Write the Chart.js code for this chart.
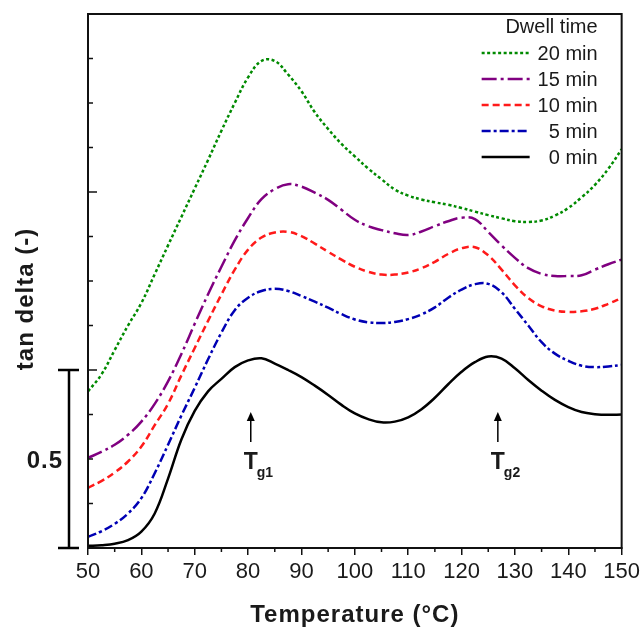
<!DOCTYPE html>
<html>
<head>
<meta charset="utf-8">
<script src="https://cdn.jsdelivr.net/npm/chart.js@4"></script>
<style>
  html, body { margin: 0; padding: 0; background: #fff; }
  #wrap { width: 644px; height: 629px; }
</style>
</head>
<body>
<div id="wrap"><canvas id="tanDeltaChart" width="644" height="629"></canvas></div>
<script>
// Temperature grid (°C), shared by all curves
const temps = [50, 52.5, 55, 57.5, 60, 62.5, 65, 67.5, 70, 72.5, 75, 77.5, 80, 82.5, 85, 87.5, 90, 92.5, 95, 97.5,
               100, 102.5, 105, 107.5, 110, 112.5, 115, 117.5, 120, 122.5, 125, 127.5, 130, 132.5, 135, 137.5, 140, 142.5, 145, 147.5, 150];

// tan delta (offset curves, arbitrary baseline)
const dwell0 = [0.006, 0.008, 0.012, 0.022, 0.046, 0.097, 0.195, 0.305, 0.385, 0.44, 0.475, 0.508, 0.527, 0.533, 0.518, 0.5, 0.48, 0.456, 0.43, 0.402,
                0.378, 0.362, 0.353, 0.355, 0.367, 0.39, 0.422, 0.46, 0.495, 0.522, 0.538, 0.532, 0.505, 0.472, 0.442, 0.416, 0.396, 0.382, 0.376, 0.374, 0.375];
const dwell5 = [0.031, 0.047, 0.068, 0.097, 0.14, 0.21, 0.29, 0.372, 0.45, 0.53, 0.605, 0.668, 0.703, 0.722, 0.728, 0.722, 0.708, 0.692, 0.675, 0.657,
                0.642, 0.634, 0.632, 0.635, 0.643, 0.656, 0.676, 0.703, 0.726, 0.741, 0.742, 0.718, 0.672, 0.625, 0.578, 0.546, 0.526, 0.512, 0.508, 0.51, 0.514];
const dwell10 = [0.169, 0.188, 0.212, 0.243, 0.285, 0.345, 0.405, 0.485, 0.562, 0.638, 0.712, 0.782, 0.838, 0.872, 0.886, 0.888, 0.876, 0.855, 0.832, 0.81,
                 0.79, 0.776, 0.768, 0.768, 0.774, 0.786, 0.804, 0.826, 0.842, 0.845, 0.822, 0.782, 0.738, 0.702, 0.679, 0.667, 0.663, 0.665, 0.672, 0.686, 0.702];
const dwell15 = [0.253, 0.27, 0.29, 0.318, 0.355, 0.405, 0.468, 0.545, 0.63, 0.713, 0.79, 0.864, 0.927, 0.98, 1.008, 1.022, 1.015, 0.998, 0.978, 0.95,
                 0.922, 0.904, 0.893, 0.884, 0.879, 0.889, 0.904, 0.918, 0.928, 0.924, 0.888, 0.85, 0.815, 0.786, 0.77, 0.764, 0.764, 0.766, 0.782, 0.797, 0.81];
const dwell20 = [0.44, 0.487, 0.556, 0.625, 0.688, 0.769, 0.85, 0.93, 1.01, 1.09, 1.172, 1.25, 1.322, 1.368, 1.368, 1.33, 1.283, 1.224, 1.177, 1.135,
                 1.1, 1.066, 1.036, 1.007, 0.99, 0.979, 0.971, 0.964, 0.955, 0.945, 0.935, 0.926, 0.918, 0.916, 0.92, 0.934, 0.955, 0.985, 1.02, 1.065, 1.12];

const dwellLabels = ['0 min', '5 min', '10 min', '15 min', '20 min'];
const legendTitle = 'Dwell time';

// axis settings
const xMin = 50, xMax = 150, xMajorStep = 10, xMinorStep = 5;
const yMin = 0, yMax = 1.5, yMinorStep = 0.125, yMajorStep = 0.5;

// scale bar and Tg markers
const scaleBarRange = [0, 0.5];
const scaleBarText = '0.5';
const tgMarkers = [{ x: 80.5, sub: 'g1' }, { x: 126.8, sub: 'g2' }];
const tgArrowRange = [0.298, 0.382];

const txt = '#1a1a1a';
const boldFont = 'bold 24px "Liberation Sans", Arial, sans-serif';

// draws frame, minor ticks, scale bar, annotations and the legend
const decorPlugin = {
    id: 'decor',
    afterDraw(chart) {
        const ctx = chart.ctx;
        const area = chart.chartArea;
        const xs = chart.scales.x;
        const ys = chart.scales.y;
        ctx.save();

        // frame
        ctx.strokeStyle = '#111';
        ctx.lineWidth = 2;
        ctx.strokeRect(area.left, area.top, area.right - area.left, area.bottom - area.top);

        // minor x ticks
        ctx.lineWidth = 1.5;
        for (let v = xMin + xMinorStep; v < xMax; v += xMajorStep) {
            const px = xs.getPixelForValue(v);
            ctx.beginPath();
            ctx.moveTo(px, area.bottom);
            ctx.lineTo(px, area.bottom + 4);
            ctx.stroke();
        }

        // inner y ticks
        for (let v = yMinorStep; v < yMax - 1e-6; v += yMinorStep) {
            const py = ys.getPixelForValue(v);
            const major = Math.abs(v / yMajorStep - Math.round(v / yMajorStep)) < 1e-6;
            ctx.beginPath();
            ctx.moveTo(area.left, py);
            ctx.lineTo(area.left + (major ? 9 : 5), py);
            ctx.stroke();
        }

        // scale bar
        const y0 = ys.getPixelForValue(scaleBarRange[0]);
        const y1 = ys.getPixelForValue(scaleBarRange[1]);
        const bx = area.left - 19;
        ctx.lineWidth = 2.5;
        ctx.strokeStyle = '#000';
        ctx.beginPath();
        ctx.moveTo(bx, y0); ctx.lineTo(bx, y1);
        ctx.moveTo(bx - 11, y0); ctx.lineTo(bx + 10, y0);
        ctx.moveTo(bx - 11, y1); ctx.lineTo(bx + 10, y1);
        ctx.stroke();

        ctx.fillStyle = txt;
        ctx.font = boldFont;
        ctx.letterSpacing = '1px';
        ctx.textAlign = 'right';
        ctx.textBaseline = 'middle';
        ctx.fillText(scaleBarText, bx - 6, (y0 + y1) / 2 + 2);

        // y axis title
        ctx.save();
        ctx.translate(26, (area.top + area.bottom) / 2 + 18);
        ctx.rotate(-Math.PI / 2);
        ctx.textAlign = 'center';
        ctx.fillText('tan delta (-)', 0, 0);
        ctx.restore();

        // x axis title
        ctx.textAlign = 'center';
        ctx.textBaseline = 'alphabetic';
        ctx.fillText('Temperature (°C)', (area.left + area.right) / 2, 622);
        ctx.letterSpacing = '0px';

        // Tg arrows
        tgMarkers.forEach((m) => {
            const px = xs.getPixelForValue(m.x);
            const top = ys.getPixelForValue(tgArrowRange[1]);
            const bot = ys.getPixelForValue(tgArrowRange[0]);
            ctx.strokeStyle = '#000';
            ctx.lineWidth = 1.5;
            ctx.beginPath();
            ctx.moveTo(px, bot); ctx.lineTo(px, top + 6);
            ctx.stroke();
            ctx.fillStyle = '#000';
            ctx.beginPath();
            ctx.moveTo(px, top); ctx.lineTo(px - 4, top + 9); ctx.lineTo(px + 4, top + 9);
            ctx.closePath();
            ctx.fill();
            ctx.fillStyle = txt;
            ctx.font = 'bold 23px "Liberation Sans", Arial, sans-serif';
            ctx.textAlign = 'center';
            ctx.fillText('T', px, bot + 27);
            ctx.font = 'bold 14px "Liberation Sans", Arial, sans-serif';
            ctx.textAlign = 'left';
            ctx.fillText(m.sub, px + 6, bot + 35);
        });

        // legend (top right, reversed order)
        const textRight = area.right - 24;
        const lineL = area.right - 140, lineR = area.right - 92;
        ctx.font = '20px "Liberation Sans", Arial, sans-serif';
        ctx.textAlign = 'right';
        ctx.textBaseline = 'middle';
        ctx.fillStyle = txt;
        ctx.fillText(legendTitle, textRight, area.top + 13);
        const sets = chart.data.datasets.slice().reverse();
        sets.forEach((ds, i) => {
            const cy = area.top + 39 + i * 26;
            ctx.strokeStyle = ds.borderColor;
            ctx.lineWidth = ds.borderWidth;
            ctx.setLineDash(ds.borderDash || []);
            ctx.beginPath();
            ctx.moveTo(lineL, cy); ctx.lineTo(lineR, cy);
            ctx.stroke();
            ctx.setLineDash([]);
            ctx.fillStyle = txt;
            ctx.fillText(ds.label, textRight, cy + 1);
        });

        ctx.restore();
    }
};

function series(label, data, color, dash, width) {
    return {
        label: label,
        data: data.map((v, i) => ({ x: temps[i], y: v })),
        borderColor: color,
        borderDash: dash,
        borderWidth: width,
        pointRadius: 0,
        fill: false,
        tension: 0.4,
    };
}

const ctx = document.getElementById('tanDeltaChart').getContext('2d');
new Chart(ctx, {
    type: 'line',
    data: {
        datasets: [
            series(dwellLabels[0], dwell0, '#000000', [], 2.5),
            series(dwellLabels[1], dwell5, '#0000b4', [9, 3, 3, 3], 2.5),
            series(dwellLabels[2], dwell10, '#ff1a1a', [7, 4], 2.5),
            series(dwellLabels[3], dwell15, '#800080', [15, 4, 3, 4], 2.5),
            series(dwellLabels[4], dwell20, '#008a00', [3, 2.5], 2.5),
        ],
    },
    options: {
        responsive: false,
        animation: false,
        layout: { padding: { left: 0, top: 14, right: 22, bottom: 0 } },
        plugins: { legend: { display: false }, tooltip: { enabled: false } },
        scales: {
            x: {
                type: 'linear',
                min: xMin,
                max: xMax,
                ticks: {
                    stepSize: xMajorStep,
                    color: txt,
                    padding: 4,
                    font: { family: '"Liberation Sans", Arial, sans-serif', size: 22 },
                },
                grid: { drawOnChartArea: false, tickLength: 7, color: '#111', lineWidth: 1.5 },
                border: { display: true, color: '#111', width: 2 },
                afterFit: (s) => { s.height = 81; },
            },
            y: {
                min: yMin,
                max: yMax,
                ticks: { display: false },
                grid: { display: false },
                border: { display: false },
                afterFit: (s) => { s.width = 88; },
            },
        },
    },
    plugins: [decorPlugin],
});
</script>
</body>
</html>
